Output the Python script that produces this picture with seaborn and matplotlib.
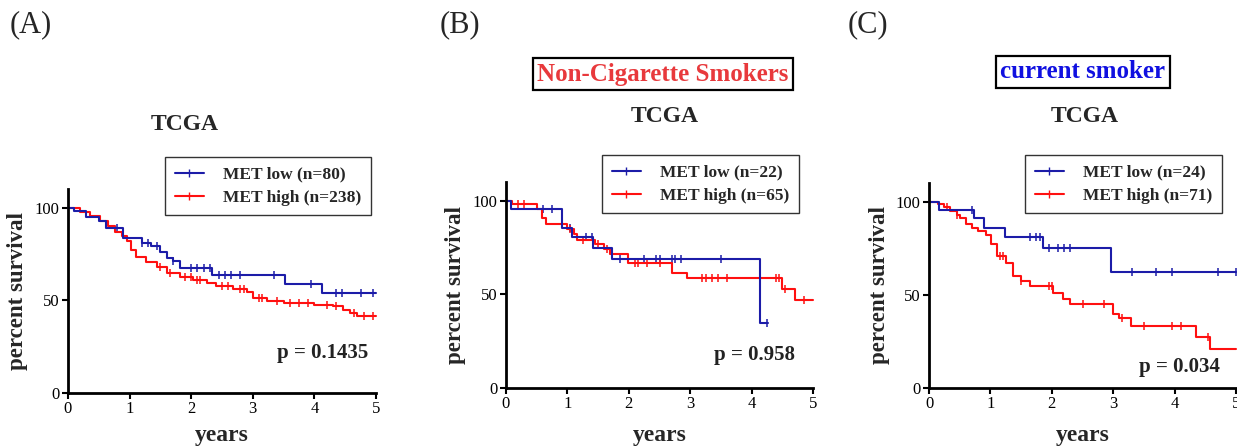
import numpy as np
import pandas as pd
import matplotlib
matplotlib.use("Agg")
import matplotlib.pyplot as plt
import seaborn as sns
from matplotlib.lines import Line2D

sns.set_style("ticks")
plt.rcParams['font.family'] = ['Liberation Serif', 'DejaVu Serif']

# ---------------- data ----------------
# Panel A (TCGA all)
A_low_t = [0, 0.10, 0.30, 0.50, 0.62, 0.90, 1.20, 1.35, 1.50, 1.60, 1.70, 1.82, 2.34, 3.52, 4.12, 5.0]
A_low_s = [100, 98, 95, 93, 89, 83.5, 81, 79, 76, 73, 71, 67.5, 63.5, 59, 54, 54]
A_low_c = [0.8, 1.2, 1.3, 1.45, 1.7, 2.0, 2.1, 2.2, 2.3, 2.45, 2.55, 2.65, 2.8, 3.35, 3.95, 4.35, 4.45, 4.75, 4.95]
A_high_t = [0, 0.19, 0.35, 0.52, 0.65, 0.76, 0.87, 0.95, 1.03, 1.11, 1.27, 1.44, 1.60, 1.82, 2.03, 2.25,
            2.41, 2.68, 2.90, 3.01, 3.23, 3.50, 3.99, 4.31, 4.47, 4.58, 4.69, 5.0]
A_high_s = [100, 97.8, 95.2, 92.5, 89.8, 87, 84.4, 81.7, 77.2, 73.2, 70.9, 68.2, 64.6, 62.5, 61, 59.2,
            57.5, 56, 54.2, 51.2, 49.4, 48.5, 47.6, 46.7, 44.9, 43.1, 41.3, 41.3]
A_high_c = [1.5, 1.65, 1.9, 2.0, 2.1, 2.15, 2.5, 2.6, 2.8, 2.85, 3.1, 3.15, 3.4, 3.6, 3.75, 3.9,
            4.2, 4.35, 4.65, 4.8, 4.95]

# Panel B (non-cigarette smokers)
B_low_t = [0, 0.08, 0.91, 1.08, 1.42, 1.72, 4.13, 4.27]
B_low_s = [100, 95.5, 85.5, 80.5, 75, 69, 34.5, 34.5]
B_low_c = [0.6, 0.75, 1.05, 1.3, 1.4, 1.85, 2.25, 2.45, 2.5, 2.7, 2.75, 2.85, 3.5, 4.25]
B_high_t = [0, 0.10, 0.50, 0.58, 0.65, 1.00, 1.10, 1.15, 1.45, 1.60, 1.70, 1.99, 2.70, 2.95, 4.49, 4.70, 5.0]
B_high_s = [100, 98, 95.5, 91, 87.5, 85, 82, 79, 77, 74, 71.5, 67, 61.5, 58.5, 53, 47, 47]
B_high_c = [0.2, 0.3, 1.05, 1.25, 1.5, 1.65, 2.1, 2.15, 2.3, 2.5, 3.2, 3.25, 3.35, 3.45, 3.6, 4.4, 4.45, 4.55, 4.85]

# Panel C (current smoker)
C_low_t = [0, 0.16, 0.74, 0.90, 1.23, 1.85, 2.97, 5.0]
C_low_s = [100, 95.5, 91, 86, 81, 75, 62, 62]
C_low_c = [0.7, 1.65, 1.75, 1.8, 1.95, 2.1, 2.2, 2.3, 3.3, 3.7, 3.95, 4.7, 5.0]
C_high_t = [0, 0.15, 0.25, 0.35, 0.45, 0.50, 0.60, 0.70, 0.80, 0.93, 1.01, 1.10, 1.26, 1.37, 1.50,
            1.64, 2.02, 2.18, 2.29, 2.99, 3.10, 3.29, 4.35, 4.57, 5.0]
C_high_s = [100, 98.5, 97, 95, 93, 91, 88, 86, 84, 82, 77.5, 71, 67, 60, 57.5,
            55, 51, 47.5, 45, 39.5, 37.5, 33.3, 27.4, 20.7, 20.7]
C_high_c = [0.3, 0.45, 1.15, 1.2, 1.5, 1.95, 2.0, 2.5, 2.85, 3.15, 3.5, 3.95, 4.1, 4.55]

panels = [
    dict(tag="(A)", low=(A_low_t, A_low_s, A_low_c), high=(A_high_t, A_high_s, A_high_c),
         n_low=80, n_high=238, p="p = 0.1435", box=None),
    dict(tag="(B)", low=(B_low_t, B_low_s, B_low_c), high=(B_high_t, B_high_s, B_high_c),
         n_low=22, n_high=65, p="p = 0.958", box=("Non-Cigarette Smokers", "#e8393c")),
    dict(tag="(C)", low=(C_low_t, C_low_s, C_low_c), high=(C_high_t, C_high_s, C_high_c),
         n_low=24, n_high=71, p="p = 0.034", box=("current smoker", "#1010e0")),
]

BLUE = "#1c1ca8"
RED = "#ff1010"

W, H = 1237, 447
fig = plt.figure(figsize=(W / 100, H / 100), dpi=100)

# axes rectangles in pixels: left, right, top(y at 110), bottom(y at 0)
rects = [(68, 376, 189, 393), (506, 813, 182, 388), (929, 1236, 183, 388)]
legend_boxes = [(165, 157), (602, 155), (1025, 155)]  # top-left px
p_pos = [(323, 353), (755, 355), (1179, 367)]
title_pos = [(185, 125), (665, 117), (1085, 117)]
tag_pos = [(10, 25), (440, 25), (848, 25)]
box_pos = [None, (663, 74), (1083, 72)]
ylab_x = [18, 455, 880]
xlab_y = 436


def censor_y(t_list, s_list, c_list):
    t = np.asarray(t_list)
    s = np.asarray(s_list)
    idx = np.searchsorted(t, np.asarray(c_list), side="right") - 1
    return s[np.clip(idx, 0, len(s) - 1)]


for i, pnl in enumerate(panels):
    l, r, tp, bt = rects[i]
    ax = fig.add_axes([l / W, 1 - bt / H, (r - l) / W, (bt - tp) / H])
    rows = []
    for grp, key in (("low", "low"), ("high", "high")):
        tt, ss, _ = pnl[key]
        rows.append(pd.DataFrame({"t": tt, "s": ss, "g": grp}))
    df = pd.concat(rows, ignore_index=True)
    sns.lineplot(data=df, x="t", y="s", hue="g", palette={"low": BLUE, "high": RED},
                 hue_order=["high", "low"], drawstyle="steps-post", estimator=None,
                 linewidth=1.5, legend=False, ax=ax)
    for key, col in (("low", BLUE), ("high", RED)):
        tt, ss, cc = pnl[key]
        cdf = pd.DataFrame({"t": cc, "s": censor_y(tt, ss, cc)})
        sns.scatterplot(data=cdf, x="t", y="s", marker="|", s=30, color=col,
                        linewidth=1.1, ax=ax, legend=False)

    ax.set_xlim(0, 5)
    ax.set_ylim(0, 110)
    ax.set_xticks([0, 1, 2, 3, 4, 5])
    ax.set_yticks([0, 50, 100])
    ax.set_xlabel("")
    ax.set_ylabel("")
    for sp in ("top", "right"):
        ax.spines[sp].set_visible(False)
    for sp in ("left", "bottom"):
        ax.spines[sp].set_linewidth(2.0)
        ax.spines[sp].set_color("black")
    ax.tick_params(axis="both", length=4, width=1.5, labelsize=12, colors="black", pad=2)
    ax.margins(0)
    for ln in ax.lines:
        ln.set_clip_on(False)

    # legend
    handles = [Line2D([0, 0.5, 1], [0, 0, 0], color=BLUE, lw=1.5, marker="|", markersize=6, markevery=[1]),
               Line2D([0, 0.5, 1], [0, 0, 0], color=RED, lw=1.5, marker="|", markersize=6, markevery=[1])]
    lx, ly = legend_boxes[i]
    leg = fig.legend(handles, [f"MET low (n={pnl['n_low']})", f"MET high (n={pnl['n_high']})"],
                     loc="upper left", bbox_to_anchor=(lx / W, 1 - ly / H),
                     prop=dict(family="Liberation Serif", weight="bold", size=12.5),
                     frameon=True, fancybox=False, edgecolor="#333333", framealpha=1,
                     handlelength=1.7, borderpad=0.55, labelspacing=0.4, handletextpad=1.1,
                     borderaxespad=0)
    leg.get_frame().set_linewidth(1.0)

    # p-value
    px, py = p_pos[i]
    fig.text(px / W, 1 - py / H, pnl["p"], ha="center", va="center", fontsize=15,
             fontweight="bold", color="#222222")
    # title
    tx, ty = title_pos[i]
    fig.text(tx / W, 1 - ty / H, "TCGA", ha="center", va="center", fontsize=17, fontweight="bold")
    # panel tag
    gx, gy = tag_pos[i]
    fig.text(gx / W, 1 - gy / H, pnl["tag"], ha="left", va="center", fontsize=22)
    # boxed subgroup label
    if pnl["box"] is not None:
        bx, by = box_pos[i]
        txt, col = pnl["box"]
        fig.text(bx / W, 1 - by / H, txt, ha="center", va="center", fontsize=18,
                 fontweight="bold", color=col,
                 bbox=dict(boxstyle="square,pad=0.18", facecolor="white", edgecolor="black", linewidth=1.6))
    # axis labels
    fig.text(ylab_x[i] / W, 1 - ((tp + bt) / 2) / H, "percent survival", rotation=90,
             ha="center", va="center", fontsize=16.5, fontweight="bold")
    fig.text(((l + r) / 2) / W, 1 - xlab_y / H, "years", ha="center", va="center",
             fontsize=17, fontweight="bold")

fig.savefig("out.png", dpi=100)
